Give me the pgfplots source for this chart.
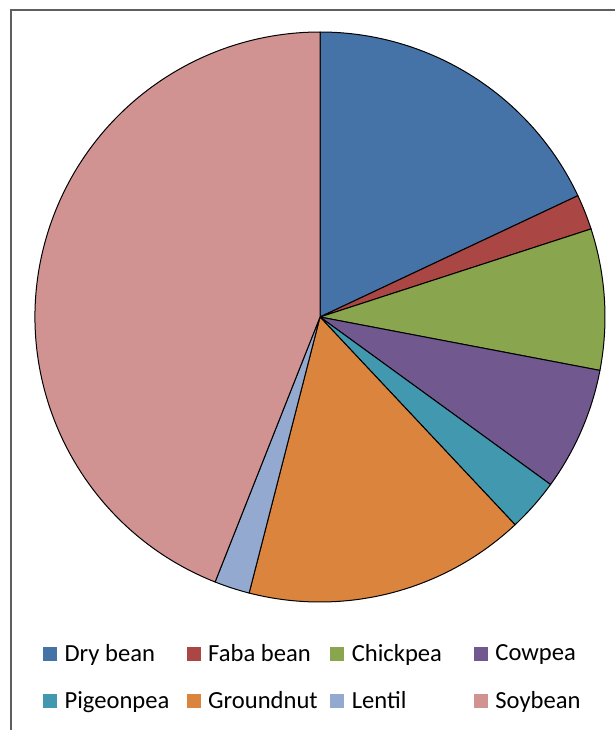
\documentclass[border=0pt]{standalone}
\usepackage{fontspec}
\setmainfont{Carlito}
\usepackage{pgfplots}
\usepackage{pgfplotstable}
\pgfplotsset{compat=1.18}

% slice colours
\definecolor{cDry}{HTML}{4572A7}
\definecolor{cFaba}{HTML}{AA4643}
\definecolor{cChick}{HTML}{89A54E}
\definecolor{cCow}{HTML}{71588F}
\definecolor{cPigeon}{HTML}{4198AF}
\definecolor{cGround}{HTML}{DB843D}
\definecolor{cLentil}{HTML}{93A9CF}
\definecolor{cSoy}{HTML}{D19392}
\definecolor{frame}{RGB}{95,95,95}

% share of each crop (percent)
\pgfplotstableread[col sep=comma]{
crop,value,colour
Dry bean,18,cDry
Faba bean,2,cFaba
Chickpea,8,cChick
Cowpea,7,cCow
Pigeonpea,3,cPigeon
Groundnut,16,cGround
Lentil,2,cLentil
Soybean,44,cSoy
}\cropshares

\begin{document}
\begin{tikzpicture}
\useasboundingbox (0,0) rectangle (307.5pt,365pt);
\begin{axis}[
  at={(0,0)}, anchor=south west,
  scale only axis, width=307.5pt, height=365pt,
  xmin=0, xmax=615, ymin=0, ymax=730,
  hide axis, clip=false,
  legend columns=4,
  legend cell align=left,
  legend image code/.code={\fill[draw=none,#1] (0pt,-3.4pt) rectangle (7pt,3.6pt);},
  legend style={
    at={(axis cs:43,86)}, anchor=north west,
    draw=none, fill=none, inner sep=0pt, outer sep=0pt,
    font=\fontsize{12.3}{14.8}\selectfont,
    nodes={inner sep=0pt, outer sep=0pt},
    row sep=13.5pt,
    /tikz/every odd column/.append style={column sep=3.8pt},
  },
]
% frame
\draw[frame, line width=1pt] (axis cs:10.5,0) -- (axis cs:10.5,719.5) -- (axis cs:615,719.5);

% pie slices, clockwise from twelve o'clock
\def\cum{0}
\pgfplotsforeachungrouped \i in {0,...,7}{%
  \pgfplotstablegetelem{\i}{value}\of\cropshares \let\v\pgfplotsretval
  \pgfplotstablegetelem{\i}{colour}\of\cropshares \let\c\pgfplotsretval
  \pgfplotstablegetelem{\i}{crop}\of\cropshares \let\n\pgfplotsretval
  \pgfmathsetmacro\sa{90-3.6*\cum}%
  \pgfmathsetmacro\cum{\cum+\v}%
  \pgfmathsetmacro\ea{90-3.6*\cum}%
  \edef\temp{\noexpand\filldraw[fill=\c, draw=black, line width=0.5pt, line join=round]
    (axis cs:320,413) -- ++(\sa:142.5pt) arc[start angle=\sa, end angle=\ea, radius=142.5pt] -- cycle;}%
  \temp
  \edef\temp{\noexpand\addlegendimage{fill=\c}}\temp
  \edef\temp{\noexpand\addlegendentry{\noexpand\makebox[61pt][l]{\n}}}\temp
}
\end{axis}
\end{tikzpicture}
\end{document}
